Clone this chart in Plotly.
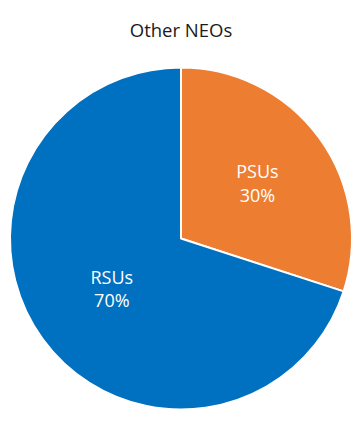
import plotly.graph_objects as go

labels = ["PSUs", "RSUs"]
values = [30, 70]
colors = ["#ED7D31", "#0070C0"]

fig = go.Figure(go.Pie(
    labels=labels,
    values=values,
    sort=False,
    direction="clockwise",
    rotation=0,
    marker=dict(colors=colors, line=dict(color="white", width=2)),
    texttemplate="%{label}<br>%{percent:.0%}",
    textposition="inside",
    insidetextorientation="horizontal",
    textfont=dict(family="Open Sans", size=18, color="white"),
    hoverinfo="skip",
    domain=dict(x=[10/362, 352/362], y=[1-410/432, 1-67/432]),
    showlegend=False,
))

fig.update_layout(
    width=362, height=432,
    margin=dict(l=0, r=0, t=0, b=0),
    paper_bgcolor="white",
    title=dict(text="Other NEOs", x=0.5, xanchor="center", y=1-31/432, yanchor="middle",
               font=dict(family="Open Sans", size=18.5, color="#1a1a1a")),
)

fig.write_html("out.html")
